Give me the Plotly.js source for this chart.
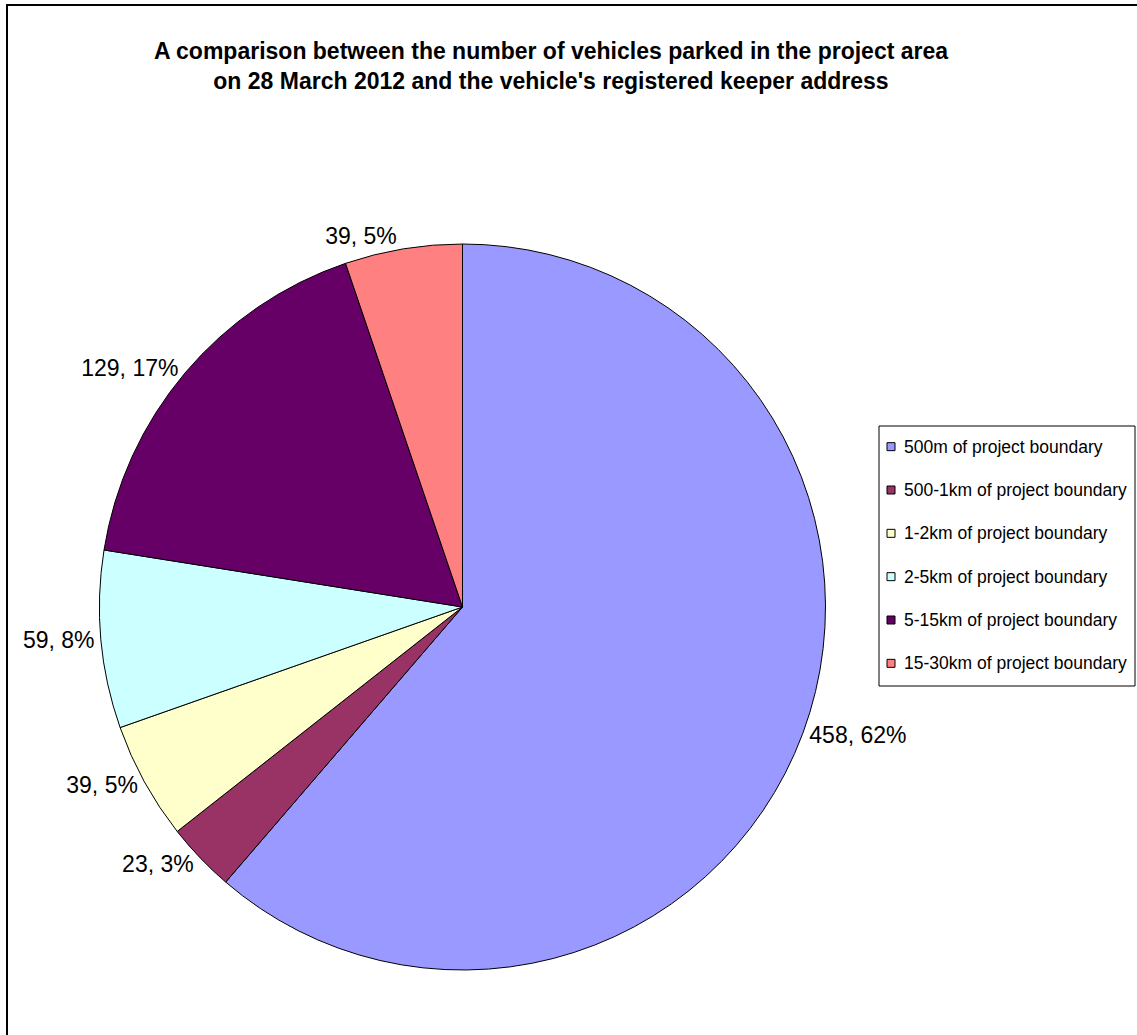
<!DOCTYPE html>
<html>
<head>
<meta charset="utf-8">
<script src="https://cdn.plot.ly/plotly-3.0.1.min.js"></script>
<style>
  html, body { margin: 0; padding: 0; background: #fff; }
  #chart { width: 1137px; height: 1035px; }
</style>
</head>
<body>
<div id="chart"></div>
<script>
// ---- data ----
const categories = [
  '500m of project boundary',
  '500-1km of project boundary',
  '1-2km of project boundary',
  '2-5km of project boundary',
  '5-15km of project boundary',
  '15-30km of project boundary'
];
const vehicleCounts = [458, 23, 39, 59, 129, 39];
const shareLabels = ['62%', '3%', '5%', '8%', '17%', '5%'];
const sliceColors = ['#9999FF', '#993366', '#FFFFCC', '#CCFFFF', '#660066', '#FF8080'];
const chartTitle = 'A comparison between the number of vehicles parked in the project area<br>on 28 March 2012 and the vehicle\'s registered keeper address';

// ---- layout helpers (pixel -> paper) ----
const W = 1137, H = 1035;
const px = x => x / W;
const py = y => 1 - y / H;

const pieCx = 462.5, pieCy = 607, pieR = 363;

const trace = {
  type: 'pie',
  labels: categories,
  values: vehicleCounts,
  text: shareLabels,
  texttemplate: '%{value}, %{text}',
  textposition: 'outside',
  textfont: { family: 'Liberation Sans, Arial, sans-serif', size: 23, color: '#000' },
  sort: false,
  direction: 'clockwise',
  rotation: 0,
  marker: { colors: sliceColors, line: { color: '#000', width: 1 } },
  hoverinfo: 'label+value+percent',
  showlegend: false,
  domain: { x: [px(pieCx - pieR), px(pieCx + pieR)], y: [py(pieCy + pieR), py(pieCy - pieR)] }
};

// legend built from the categories
const legTop = 426, legBottom = 686, legLeft = 879, legRight = 1135;
const itemGap = (legBottom - legTop) / categories.length;
const shapes = [
  // outer chart border
  { type: 'rect', xref: 'paper', yref: 'paper', x0: px(7), x1: px(1160), y0: py(1060), y1: py(5),
    line: { color: '#000', width: 2 }, fillcolor: 'rgba(0,0,0,0)' },
  // legend box
  { type: 'rect', xref: 'paper', yref: 'paper', x0: px(legLeft), x1: px(legRight), y0: py(legBottom), y1: py(legTop),
    line: { color: '#000', width: 1 }, fillcolor: '#fff' }
];
const annotations = [];
categories.forEach((name, i) => {
  const yc = legTop + itemGap * (i + 0.5) - 1;
  shapes.push({ type: 'rect', xref: 'paper', yref: 'paper',
    x0: px(887), x1: px(895), y0: py(yc + 4), y1: py(yc - 4),
    line: { color: '#000', width: 1 }, fillcolor: sliceColors[i] });
  annotations.push({ xref: 'paper', yref: 'paper', x: px(902), y: py(yc), xanchor: 'left', yanchor: 'middle',
    text: name, showarrow: false,
    font: { family: 'Liberation Sans, Arial, sans-serif', size: 17.5, color: '#000' } });
});

const layout = {
  width: W, height: H,
  margin: { l: 0, r: 0, t: 0, b: 0 },
  paper_bgcolor: '#fff',
  showlegend: false,
  title: {
    text: '<b>' + chartTitle + '</b>',
    x: px(551), xanchor: 'center',
    y: py(59), yanchor: 'middle',
    font: { family: 'Liberation Sans, Arial, sans-serif', size: 23, color: '#000' }
  },
  shapes: shapes,
  annotations: annotations
};

Plotly.newPlot('chart', [trace], layout, { displayModeBar: false, staticPlot: true });
</script>
</body>
</html>
